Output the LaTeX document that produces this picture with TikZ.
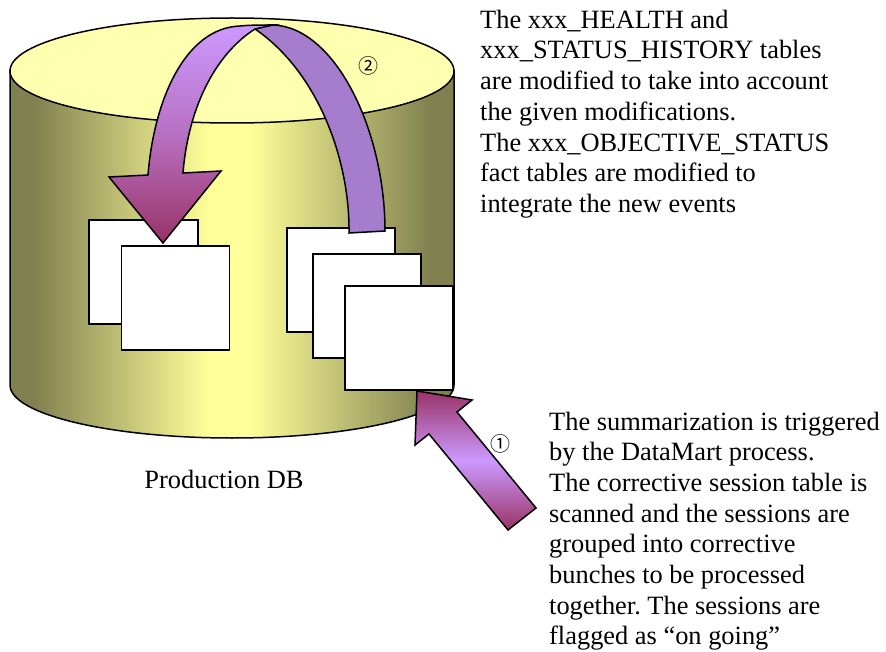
\documentclass[tikz,border=0pt]{standalone}
\usepackage{fontspec}
\setmainfont{Liberation Serif}
\newfontfamily\circfont{Noto Sans CJK JP}
\definecolor{olivedark}{RGB}{128,128,80}
\definecolor{cylyellow}{RGB}{255,255,153}
\definecolor{toplight}{RGB}{255,255,176}
\definecolor{plum}{RGB}{153,51,102}
\definecolor{lilac}{RGB}{204,153,255}
\definecolor{bandpurple}{RGB}{165,125,204}
\pgfdeclarehorizontalshading{cylshade}{100bp}{color(0bp)=(olivedark);color(27.5bp)=(olivedark);color(47.5bp)=(cylyellow);color(52bp)=(cylyellow);color(72.5bp)=(olivedark);color(100bp)=(olivedark)}
\tikzset{
  outline/.style={draw=black,line width=1.5pt,line join=miter},
  page/.style={outline,fill=white,inner sep=0pt,minimum width=#1},
  caption/.style={align=left,anchor=north west,inner sep=0pt,font=\frenchspacing\fontsize{26.4}{30.7}\selectfont},
  circmark/.style={inner sep=0pt,font=\circfont\fontsize{20}{20}\selectfont}
}
\begin{document}
\begin{tikzpicture}[x=1pt,y=-1pt]
\useasboundingbox (0,0) rectangle (886,652);
% cylinder
\path[outline,shading=cylshade] (10,71) -- (10,385)
  .. controls (10,414.3) and (109.4,438) .. (232,438)
  .. controls (354.6,438) and (454,414.3) .. (454,385)
  -- (454,71) -- cycle;
\path[outline,fill=toplight] (10,71)
  .. controls (10,41.7) and (109.4,18) .. (232,18)
  .. controls (354.6,18) and (454,41.7) .. (454,71)
  .. controls (454,100.3) and (354.6,123) .. (232,123)
  .. controls (109.4,123) and (10,100.3) .. (10,71) -- cycle;
% tables
\node[page=109pt,minimum height=104pt] (a1) at (143.5,272) {};
\node[page=108pt,minimum height=104pt] (a2) at (175.5,298) {};
\node[page=108pt,minimum height=104pt] (b1) at (341,280) {};
\node[page=108pt,minimum height=104pt] (b2) at (367,306) {};
\node[page=108pt,minimum height=104pt] (b3) at (399,338) {};
% curved arrow: back band
\path[outline,fill=bandpurple] (349,233)
  .. controls (350,160) and (318,72) .. (255,29)
  .. controls (260,26) and (266,25) .. (273,25)
  .. controls (335,27) and (385,130) .. (385,231) -- cycle;
% curved arrow: front band and head
\path[outline,top color=lilac,bottom color=plum,middle color=lilac!60!plum] (148,175)
  .. controls (154,100) and (185,28) .. (240,26)
  .. controls (250,25) and (262,25) .. (273,25)
  -- (255,29)
  .. controls (214,55) and (188,110) .. (183,173)
  -- (221,171) -- (163,243) -- (109,177) -- cycle;
% straight arrow
\path[outline,shading=axis,top color=plum,bottom color=plum,middle color=lilac,shading angle=0]
  (417,391) -- (472,400) -- (457,412) -- (536,508) -- (508,530) -- (429,434) -- (415,445) -- cycle;
% labels
\node[circmark] (n2) at (368,66) {②};
\node[circmark] (n1) at (500,444) {①};
\node[inner sep=0pt,font=\fontsize{26.4}{30}\selectfont] (db) at (224,479) {Production DB};
\node[caption] (t2) at (480,9.7) {The xxx\_HEALTH and\\xxx\_STATUS\_HISTORY tables\\are modified to take into account\\the given modifications.\\The xxx\_OBJECTIVE\_STATUS\\fact tables are modified to\\integrate the new events};
\node[caption] (t1) at (549,411.5) {The summarization is triggered\\by the DataMart process.\\The corrective session table is\\scanned and the sessions are\\grouped into corrective\\bunches to be processed\\together. The sessions are\\flagged as “on going”};
\end{tikzpicture}
\end{document}
